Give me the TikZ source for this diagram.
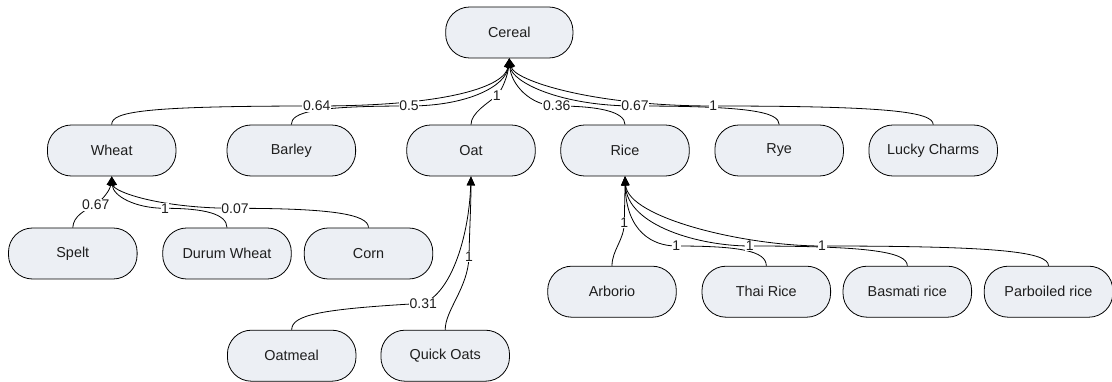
\documentclass[tikz,border=0pt]{standalone}
\usepackage{fontspec}
\setmainfont{Liberation Sans}
\usetikzlibrary{arrows.meta}
\definecolor{boxfill}{RGB}{236,239,244}
\definecolor{ink}{RGB}{30,30,30}
\tikzset{
  item/.style={draw=black, line width=0.8pt, fill=boxfill, rounded corners=24pt,
    minimum width=128.6pt, minimum height=51pt, inner sep=0pt,
    font=\fontsize{14.4}{17}\selectfont, text=ink},
  link/.style={draw=black, line width=0.8pt, -{Triangle[length=9pt,width=8pt]}},
  weight/.style={fill=white, inner sep=0.6pt, font=\fontsize{14}{16}\selectfont, text=ink},
}
\begin{document}
\begin{tikzpicture}[x=1pt, y=-1pt]
\useasboundingbox (0,0) rectangle (1112,382);

% categories
\node[item, minimum width=127.3pt] (cereal) at (509.3,32.5) {Cereal};
\node[item] (wheat)  at (111.7,150.5) {Wheat};
\node[item] (barley) at (291.3,150.5) {Barley};
\node[item] (oat)    at (471.0,150.5) {Oat};
\node[item] (rice)   at (625.0,150.5) {Rice};
\node[item] (rye)    at (779.2,150.5) {Rye};
\node[item] (lucky)  at (933.2,150.5) {Lucky Charms};

\node[item] (spelt)  at (72.8,253.5)  {Spelt};
\node[item] (durum)  at (227.0,253.5) {Durum Wheat};
\node[item] (corn)   at (368.5,253.5) {Corn};

\node[item] (oatmeal) at (291.7,355.7) {Oatmeal};
\node[item] (quick)   at (445.2,355.7) {Quick Oats};

\node[item] (arborio)   at (612.0,291.7)  {Arborio};
\node[item] (thai)      at (766.3,291.7)  {Thai Rice};
\node[item] (basmati)   at (907.3,291.7)  {Basmati rice};
\node[item] (parboiled) at (1048.5,291.7) {Parboiled rice};

% where the weights sit on their links
\coordinate (w1)  at (316.7,106);
\coordinate (w2)  at (409.0,106);
\coordinate (w3)  at (496.7,95.7);
\coordinate (w4)  at (556.7,106);
\coordinate (w5)  at (635.0,106);
\coordinate (w6)  at (713.3,106);
\coordinate (w7)  at (95.7,205);
\coordinate (w8)  at (165.0,208.3);
\coordinate (w9)  at (235.0,208.3);
\coordinate (w10) at (423.3,303.3);
\coordinate (w11) at (469.0,256.7);
\coordinate (w12) at (624.3,222.3);
\coordinate (w13) at (676.3,246);
\coordinate (w14) at (749.7,246);
\coordinate (w15) at (822.0,246);

% links to Cereal
\draw[link] (wheat.north) .. controls (111.7,112) and (140,106) .. (w1)
  .. controls (450,106) and (505,86) .. (cereal.south);
\draw[link] (barley.north) .. controls (291.3,112) and (315,106) .. (w2)
  .. controls (468,106) and (506,86) .. (cereal.south);
\draw[link] (oat.north) .. controls (471,113) and (488,103) .. (w3)
  .. controls (503,89) and (508,74) .. (cereal.south);
\draw[link] (rice.north) .. controls (625,112) and (600,106) .. (w4)
  .. controls (530,106) and (511,84) .. (cereal.south);
\draw[link] (rye.north) .. controls (779.2,112) and (750,106) .. (w5)
  .. controls (560,106) and (512,82) .. (cereal.south);
\draw[link] (lucky.north) .. controls (933.2,112) and (890,106) .. (w6)
  .. controls (590,106) and (514,80) .. (cereal.south);

% links to Wheat
\draw[link] (spelt.north) .. controls (73.3,216) and (85,210) .. (w7)
  .. controls (104,198) and (110,190) .. (wheat.south);
\draw[link] (durum.north) .. controls (226.7,214) and (205,208.3) .. (w8)
  .. controls (135,208.3) and (113,196) .. (wheat.south);
\draw[link] (corn.north) .. controls (368.3,214) and (330,208.3) .. (w9)
  .. controls (160,208.3) and (114,192) .. (wheat.south);

% links to Oat
\draw[link] (oatmeal.north) .. controls (291.7,315) and (320,309) .. (w10)
  .. controls (452,292) and (469,235) .. (oat.south);
\draw[link] (quick.north) .. controls (445.2,310) and (468,288) .. (w11)
  .. controls (469.5,230) and (471,205) .. (oat.south);

% links to Rice
\draw[link] (arborio.north) .. controls (612,250) and (624.3,240) .. (w12)
  .. controls (624.6,205) and (625,192) .. (rice.south);
\draw[link] (thai.north) .. controls (766.3,251) and (740,246) .. (w13)
  .. controls (653,246) and (626,232) .. (rice.south);
\draw[link] (basmati.north) .. controls (907.3,252) and (870,246) .. (w14)
  .. controls (700,246) and (627,226) .. (rice.south);
\draw[link] (parboiled.north) .. controls (1048.5,252) and (1000,246) .. (w15)
  .. controls (745,246) and (628,218) .. (rice.south);

% weights
\node[weight] (t1)  at (w1)  {0.64};
\node[weight] (t2)  at (w2)  {0.5};
\node[weight] (t3)  at (w3)  {1};
\node[weight] (t4)  at (w4)  {0.36};
\node[weight] (t5)  at (w5)  {0.67};
\node[weight] (t6)  at (w6)  {1};
\node[weight] (t7)  at (w7)  {0.67};
\node[weight] (t8)  at (w8)  {1};
\node[weight] (t9)  at (w9)  {0.07};
\node[weight] (t10) at (w10) {0.31};
\node[weight] (t11) at (w11) {1};
\node[weight] (t12) at (w12) {1};
\node[weight] (t13) at (w13) {1};
\node[weight] (t14) at (w14) {1};
\node[weight] (t15) at (w15) {1};
\end{tikzpicture}
\end{document}
